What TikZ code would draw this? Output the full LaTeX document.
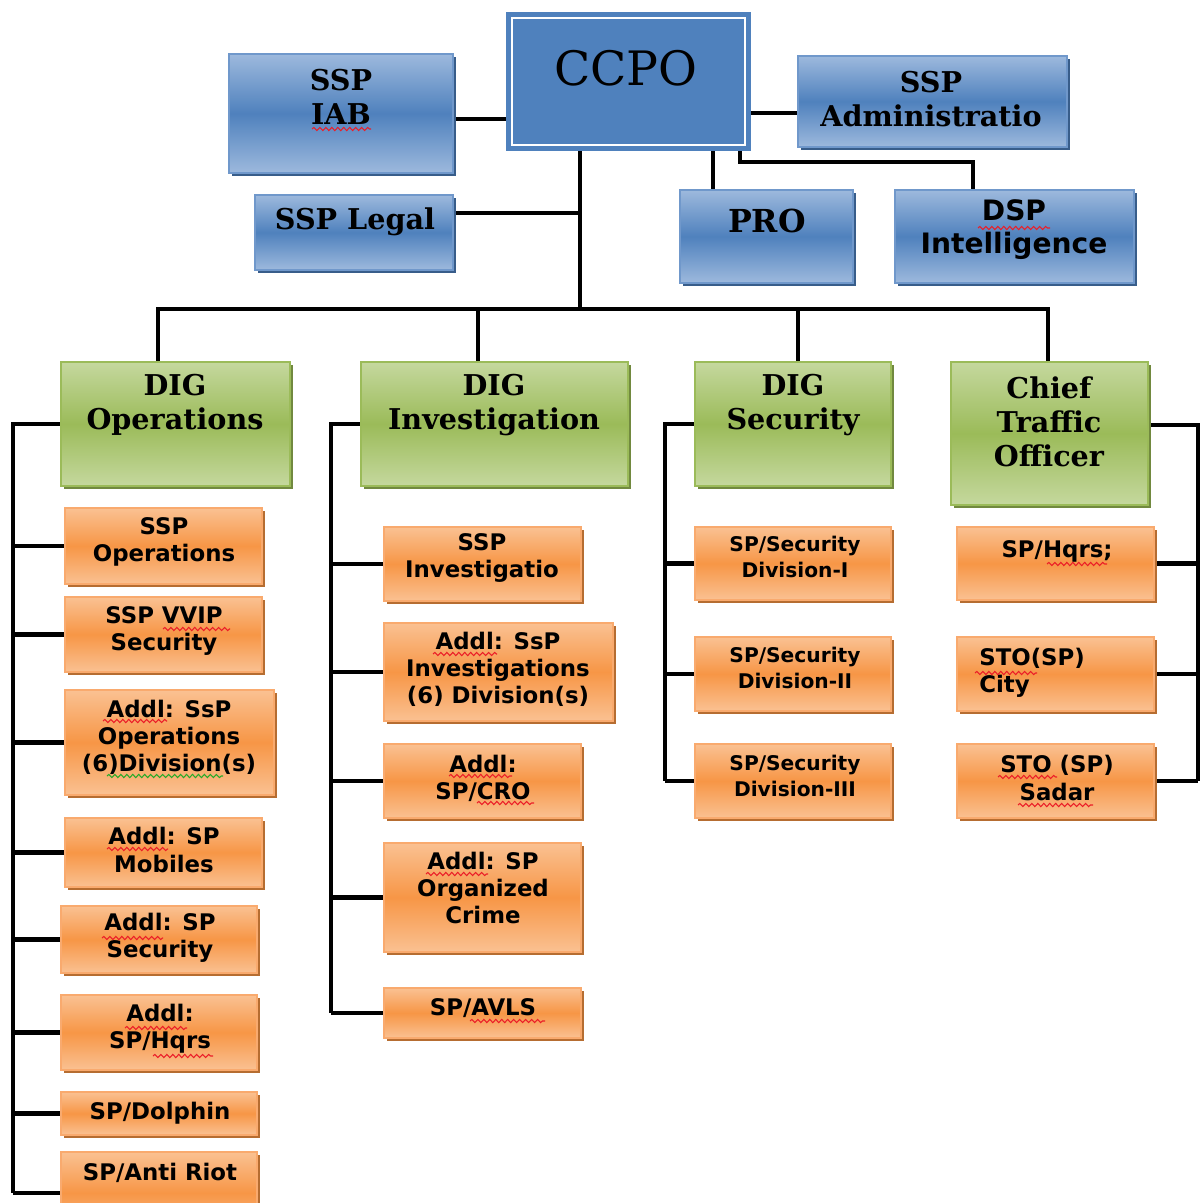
\documentclass[tikz,border=0pt]{standalone}
\usepackage{fontspec}
\setmainfont{DejaVu Serif}
\newfontfamily\unitfont{DejaVu Sans}
\usetikzlibrary{positioning, shadows, backgrounds, decorations.pathmorphing}
\definecolor{boxblue}{RGB}{79,129,189}
\definecolor{paleblue}{RGB}{157,185,221}
\definecolor{edgeblue}{RGB}{112,152,203}
\definecolor{darkblue}{RGB}{56,93,138}
\definecolor{boxgreen}{RGB}{155,187,89}
\definecolor{palegreen}{RGB}{197,216,158}
\definecolor{darkgreen}{RGB}{113,137,63}
\definecolor{boxorange}{RGB}{247,150,70}
\definecolor{paleorange}{RGB}{250,193,146}
\definecolor{edgeorange}{RGB}{249,170,110}
\definecolor{darkorange}{RGB}{182,109,49}
\definecolor{spellred}{RGB}{235,30,40}
\definecolor{spellgreen}{RGB}{40,170,40}
\tikzset{
    boxsize/.style 2 args={minimum width=#1*0.02cm, minimum height=#2*0.02cm, inner sep=0pt, outer sep=0pt},
    blueunit/.style={draw=edgeblue, line width=0.6pt, top color=paleblue, bottom color=paleblue, middle color=boxblue,
        general shadow={fill=darkblue, shadow xshift=1.8pt, shadow yshift=-1.8pt}},
    greenunit/.style={draw=boxgreen, line width=0.6pt, top color=palegreen, bottom color=palegreen, middle color=boxgreen,
        general shadow={fill=darkgreen, shadow xshift=1.8pt, shadow yshift=-1.8pt}},
    orangeunit/.style={draw=edgeorange, line width=0.6pt, top color=paleorange, bottom color=paleorange, middle color=boxorange,
        general shadow={fill=darkorange, shadow xshift=1.8pt, shadow yshift=-1.8pt}},
    link/.style={line width=2.3pt},
    spell/.style={line width=0.6pt, decorate, decoration={snake, amplitude=0.9pt, segment length=3.4pt}},
    headtxt/.style={align=center, inner sep=0pt, font=\bfseries\fontsize{16.3}{19.3}\selectfont},
    unittxt/.style={align=center, inner sep=0pt, font=\unitfont\bfseries\fontsize{13}{15.4}\selectfont},
    smalltxt/.style={align=center, inner sep=0pt, font=\unitfont\bfseries\fontsize{11.5}{14.4}\selectfont}
}

\begin{document}
\begin{tikzpicture}[x=0.02cm, y=-0.02cm]
\useasboundingbox (0,0) rectangle (1204,1203);

% top office
\node[boxsize={233}{127}, fill=boxblue, draw=boxblue, double=white, double distance=1.1pt, line width=3pt] (ccpo) at (628.5,81.5) {};
\node[blueunit, boxsize={224}{119}] (iab) at (341,113.5) {};
\node[blueunit, boxsize={198}{75}] (legal) at (354,232.5) {};
\node[blueunit, boxsize={269}{91}] (admin) at (932.5,101.5) {};
\node[blueunit, boxsize={173}{93}] (pro) at (766.5,236.5) {};
\node[blueunit, boxsize={239}{93}] (dsp) at (1014.5,236.5) {};

\node[font=\fontsize{27}{30}\selectfont, inner sep=0pt] (t-ccpo) at (626,68) {CCPO};
\node[headtxt] (t-iab) at (341,97) {SSP\\IAB};
\node[headtxt] (t-legal) at (355,222) {SSP Legal};
\node[headtxt] (t-admin) at (931,99) {SSP\\Administratio};
\node[headtxt, font=\bfseries\fontsize{18}{20}\selectfont] (t-pro) at (767,221) {PRO};
\node[align=center, inner sep=0pt, font=\unitfont\bfseries\fontsize{16}{18.8}\selectfont] (t-dsp) at (1014,230) {DSP\\Intelligence};

% DIG level
\node[greenunit, boxsize={229}{124}] (digops) at (175.5,424) {};
\node[greenunit, boxsize={267}{124}] (diginv) at (494.5,424) {};
\node[greenunit, boxsize={196}{124}] (digsec) at (793,424) {};
\node[greenunit, boxsize={197}{143}] (cto) at (1049.5,433.5) {};

\node[headtxt] (t-digops) at (175,405) {DIG\\Operations};
\node[headtxt] (t-diginv) at (494,405) {DIG\\Investigation};
\node[headtxt] (t-digsec) at (793,405) {DIG\\Security};
\node[headtxt] (t-cto) at (1049,422) {Chief\\Traffic\\Officer};

% operations
\node[orangeunit, boxsize={197}{76}] (o1) at (163.5,546) {};
\node[orangeunit, boxsize={197}{75}] (o2) at (163.5,634.5) {};
\node[orangeunit, boxsize={209}{105}] (o3) at (169.5,742.5) {};
\node[orangeunit, boxsize={197}{69}] (o4) at (163.5,852.5) {};
\node[orangeunit, boxsize={196}{67}] (o5) at (159,939.5) {};
\node[orangeunit, boxsize={196}{75}] (o6) at (159,1032.5) {};
\node[orangeunit, boxsize={196}{43}] (o7) at (159,1113.5) {};
\node[orangeunit, boxsize={196}{82}] (o8) at (159,1193) {};

\node[unittxt] (t-o1) at (164,542) {SSP\\Operations};
\node[unittxt] (t-o2) at (164,631) {SSP VVIP\\Security};
\node[unittxt] (t-o3) at (169,737) {Addl: SsP\\Operations\\(6)Division(s)};
\node[unittxt] (t-o4) at (164,850) {Addl: SP\\Mobiles};
\node[unittxt] (t-o5) at (160,938) {Addl: SP\\Security};
\node[unittxt] (t-o6) at (160,1029) {Addl:\\SP/Hqrs};
\node[unittxt] (t-o7) at (160,1113) {SP/Dolphin};
\node[unittxt] (t-o8) at (160,1173) {SP/Anti Riot};

% investigation
\node[orangeunit, boxsize={197}{74}] (i1) at (482.5,564) {};
\node[orangeunit, boxsize={229}{98}] (i2) at (498.5,672) {};
\node[orangeunit, boxsize={197}{74}] (i3) at (482.5,781) {};
\node[orangeunit, boxsize={197}{109}] (i4) at (482.5,897.5) {};
\node[orangeunit, boxsize={197}{50}] (i5) at (482.5,1013) {};

\node[unittxt] (t-i1) at (482,558) {SSP\\Investigatio};
\node[unittxt] (t-i2) at (498,669) {Addl: SsP\\Investigations\\(6) Division(s)};
\node[unittxt] (t-i3) at (483,778) {Addl:\\SP/CRO};
\node[unittxt] (t-i4) at (483,888) {Addl: SP\\Organized\\Crime};
\node[unittxt] (t-i5) at (483,1008) {SP/AVLS};

% security
\node[orangeunit, boxsize={196}{73}] (s1) at (793,563.5) {};
\node[orangeunit, boxsize={196}{74}] (s2) at (793,674) {};
\node[orangeunit, boxsize={196}{74}] (s3) at (793,781) {};

\node[smalltxt] (t-s1) at (795,557) {SP/Security\\Division-I};
\node[smalltxt] (t-s2) at (795,668) {SP/Security\\Division-II};
\node[smalltxt] (t-s3) at (795,776) {SP/Security\\Division-III};

% traffic
\node[orangeunit, boxsize={197}{73}] (t1) at (1055.5,563.5) {};
\node[orangeunit, boxsize={197}{74}] (t2) at (1055.5,674) {};
\node[orangeunit, boxsize={197}{74}] (t3) at (1055.5,781) {};

\node[unittxt] (t-t1) at (1057,551) {SP/Hqrs;};
\node[unittxt, align=left, anchor=west] (t-t2) at (979,673) {STO(SP)\\City};
\node[unittxt] (t-t3) at (1057,778) {STO (SP)\\Sadar};

% spell-check marks
\foreach \a/\b/\c in {312/371/129, 978/1050/228, 163/230/629, 103/167/721, 107/168/849,
        102/163/938, 125/187/1028, 153/213/1056, 433/497/654, 449/512/776, 477/534/803,
        426/488/874, 470/545/1021, 1047/1107/564, 975/1037/673, 998/1057/777, 1018/1093/805}
    \draw[spell, spellred] (\a,\c) -- (\b,\c);
\draw[spell, spellgreen] (107,776) -- (223,776);

\coordinate (hub) at (580,309);
\coordinate (opsrail) at (13,425);
\coordinate (invrail) at (331,425);
\coordinate (secrail) at (665,425);
\coordinate (ctorail) at (1198,425);

\begin{scope}[on background layer]
\begin{scope}[link]
    \draw ([yshift=-3pt]iab.east) -- ([yshift=-3pt]iab.east -| ccpo.west);
    \draw ([yshift=-6.5pt]admin.west) -- ([yshift=-6.5pt]admin.west -| ccpo.east);
    \draw (hub |- ccpo.south) -- (hub);
    \draw ([yshift=11pt]legal.east) -- ([yshift=11pt]legal.east -| hub);
    \draw ([xshift=-30.4pt]pro.north) -- ([xshift=-30.4pt]pro.north |- ccpo.south);
    \draw ([xshift=63.4pt]ccpo.south) -- ++(0,17) -| ([xshift=-23.6pt]dsp.north);
    % main bus
    \draw ([xshift=-10pt]digops.north) |- ([xshift=-1pt]cto.north |- hub) -- ([xshift=-1pt]cto.north);
    \draw ([xshift=-9.4pt]diginv.north) -- ([xshift=-9.4pt]diginv.north |- hub);
    \draw ([xshift=2.8pt]digsec.north) -- ([xshift=2.8pt]digsec.north |- hub);
    % side rails
    \draw (digops.west) -| (opsrail |- o8.west);
    \foreach \u in {o1,o2,o3,o4,o5,o6,o7,o8}
        \draw (\u.west) -- (\u.west -| opsrail);
    \draw (diginv.west) -| (invrail |- i5.west);
    \foreach \u in {i1,i2,i3,i4,i5}
        \draw (\u.west) -- (\u.west -| invrail);
    \draw (digsec.west) -| (secrail |- s3.west);
    \foreach \u in {s1,s2,s3}
        \draw (\u.west) -- (\u.west -| secrail);
    \draw ([yshift=4.8pt]cto.east) -| (ctorail |- t3.east);
    \foreach \u in {t1,t2,t3}
        \draw (\u.east) -- (\u.east -| ctorail);
\end{scope}
\end{scope}
\end{tikzpicture}
\end{document}
